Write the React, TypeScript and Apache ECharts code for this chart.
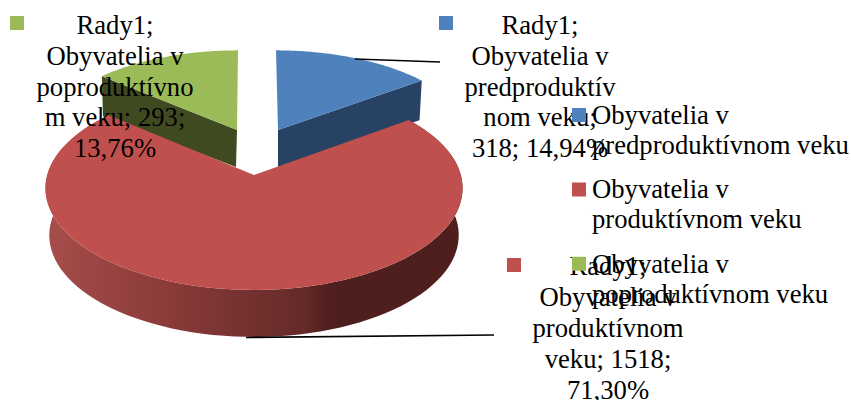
import React, { useEffect, useRef } from "react";
import * as echarts from "echarts";

const seriesName = "Rady1";
const categories = ["Obyvatelia v predproduktívnom veku", "Obyvatelia v produktívnom veku", "Obyvatelia v poproduktívnom veku"];
const legendLabels = ["Obyvatelia v\npredproduktívnom veku", "Obyvatelia v\nproduktívnom veku", "Obyvatelia v\npoproduktívnom veku"];
const values = [318, 1518, 293];
const labelWraps = [
  ["Obyvatelia v", "predproduktív", "nom veku;", "#V; #P"],
  ["Obyvatelia v", "produktívnom", "veku; #V;", "#P"],
  ["Obyvatelia v", "poproduktívno", "m veku; #V;", "#P"],
];
const colors = ["#4F81BD", "#C0504D", "#9BBB59"];
const total = values.reduce((a, b) => a + b, 0);
const pct = (v: number) => ((v / total) * 100).toFixed(2).replace(".", ",") + "%";

const FONT = '"Liberation Serif", "Times New Roman", serif';
const FONT_SIZE = 26.67;
const LINE_H = 30.8;

type Geo = {
  cx: number; cy: number; a: number; b: number; skew: number;
  bcx: number; bcy: number; ba: number; bb: number; k: number;
  sideColor: any; labelX: number; labelY: number; squareX: number; squareY: number; z: number;
};

const geos: Geo[] = [
  { cx: 278, cy: 130, a: 90, b: 193.5, skew: -2, bcx: 278, bcy: 167, ba: 85, bb: 190.5, k: 0.13,
    sideColor: "#284263", labelX: 540, labelY: 9.6, squareX: 439, squareY: 16, z: 1 },
  { cx: 254, cy: 175, a: 100, b: 206.8, skew: 0, bcx: 254, bcy: 222, ba: 100, bb: 203, k: 0.13,
    sideColor: {
      type: "linear", x: 0, y: 0, x2: 1, y2: 0,
      colorStops: [
        { offset: 0, color: "#A64E4B" },
        { offset: 0.3, color: "#8A3A38" },
        { offset: 0.62, color: "#642B29" },
        { offset: 0.68, color: "#4F1F1E" },
        { offset: 1, color: "#4F1F1E" },
      ],
    }, labelX: 608, labelY: 251, squareX: 507, squareY: 258, z: 3 },
  { cx: 237, cy: 130, a: 90, b: 193.5, skew: 1, bcx: 236, bcy: 167, ba: 85, bb: 190.5, k: 0.13,
    sideColor: "#404A21", labelX: 115, labelY: 9.6, squareX: 10, squareY: 16, z: 2 },
];

const startOf = (i: number) => values.slice(0, i).reduce((a, b) => a + b, 0) / total * Math.PI * 2;

function pt(t: number, cx: number, cy: number, a: number, b: number, k: number, skew: number) {
  const X = Math.sin(t), Y = Math.cos(t);
  const s = 1 / (1 + k * Y);
  return [cx + b * X * s + skew * Y, cy - a * Y * s];
}

function arc(t0: number, t1: number, g: Geo, bottom: boolean) {
  const out: number[][] = [];
  const n = 96;
  for (let i = 0; i <= n; i++) {
    const t = t0 + ((t1 - t0) * i) / n;
    out.push(bottom ? pt(t, g.bcx, g.bcy, g.ba, g.bb, g.k, g.skew) : pt(t, g.cx, g.cy, g.a, g.b, g.k, g.skew));
  }
  return out;
}

echarts.graphic.registerShape(
  "poly",
  echarts.graphic.extendShape({
    type: "poly",
    shape: { pts: [] },
    buildPath(ctx: any, shape: any) {
      shape.pts.forEach((p: number[], idx: number) => {
        if (idx === 0) ctx.moveTo(p[0], p[1]);
        else ctx.lineTo(p[0], p[1]);
      });
      ctx.closePath();
    },
  } as any)
);

const polyEl = (pts: number[][], fill: any) => ({ type: "poly", shape: { pts }, style: { fill } });

function makeSeries(i: number) {
  return {
    type: "custom",
    name: categories[i],
    coordinateSystem: "none",
    z: geos[i].z,
    silent: true,
    itemStyle: { color: colors[i] },
    data: [values[i]],
    renderItem: () => {
      const g = geos[i];
      const t0 = startOf(i), t1 = startOf(i + 1);
      const top = arc(t0, t1, g, false);
      const bot = arc(t0, t1, g, true);
      const children: any[] = [];
      if (i === 1) {
        children.push(polyEl([...top, ...bot.slice().reverse()], g.sideColor));
      } else {
        const e = i === 0 ? top.length - 1 : 0;
        children.push(polyEl([[g.cx, g.cy], top[e], bot[e], [g.bcx, g.bcy]], g.sideColor));
      }
      children.push(polyEl([[g.cx, g.cy], ...top], colors[i]));
      return { type: "group", children };
    },
  };
}

function fullLabel(i: number) {
  return [seriesName + ";", ...labelWraps[i]]
    .join("\n")
    .replace("#V", String(values[i]))
    .replace("#P", pct(values[i]));
}

const leaderLines = [
  { from: [355, 59], to: [440, 62] },
  { from: [246, 337.5], to: [494, 335] },
];

function makeOption() {
  return {
    animation: false,
    backgroundColor: "#fff",
    legend: {
      orient: "vertical",
      left: 572,
      top: 100,
      z: 30,
      padding: 0,
      itemWidth: 15,
      itemHeight: 44,
      itemGap: 14.4,
      selectedMode: false,
      symbolKeepAspect: false,
      icon: "path://M0 0H14V14H0Z M15 44L15 43.9",
      data: categories,
      formatter: (n: string) => legendLabels[categories.indexOf(n)],
      textStyle: { fontFamily: FONT, fontSize: FONT_SIZE, color: "#000", lineHeight: 30, padding: 0 },
    },
    graphic: [
      ...leaderLines.map((l) => ({
        type: "line", z: 10, silent: true,
        shape: { x1: l.from[0], y1: l.from[1], x2: l.to[0], y2: l.to[1] },
        style: { stroke: "#000", lineWidth: 1.75 },
      })),
      ...values.map((_, i) => ({
        type: "rect", z: 11, silent: true,
        shape: { x: geos[i].squareX, y: geos[i].squareY, width: 14, height: 14 },
        style: { fill: colors[i] },
      })),
      ...values.map((_, i) => ({
        type: "text", z: 12, silent: true,
        x: geos[i].labelX, y: geos[i].labelY,
        style: {
          text: fullLabel(i), fontFamily: FONT, fontSize: FONT_SIZE, fill: "#000",
          align: "center", verticalAlign: "top", lineHeight: LINE_H,
        },
      })),
    ],
    series: values.map((_, i) => makeSeries(i)),
  };
}

export default function App() {
  const ref = useRef<HTMLDivElement>(null);
  useEffect(() => {
    const chart = echarts.init(ref.current!, null, { renderer: "svg" });
    chart.setOption(makeOption() as any);
    return () => chart.dispose();
  }, []);
  return <div ref={ref} style={{ position: "absolute", left: 0, top: 0, width: 851, height: 400 }} />;
}
